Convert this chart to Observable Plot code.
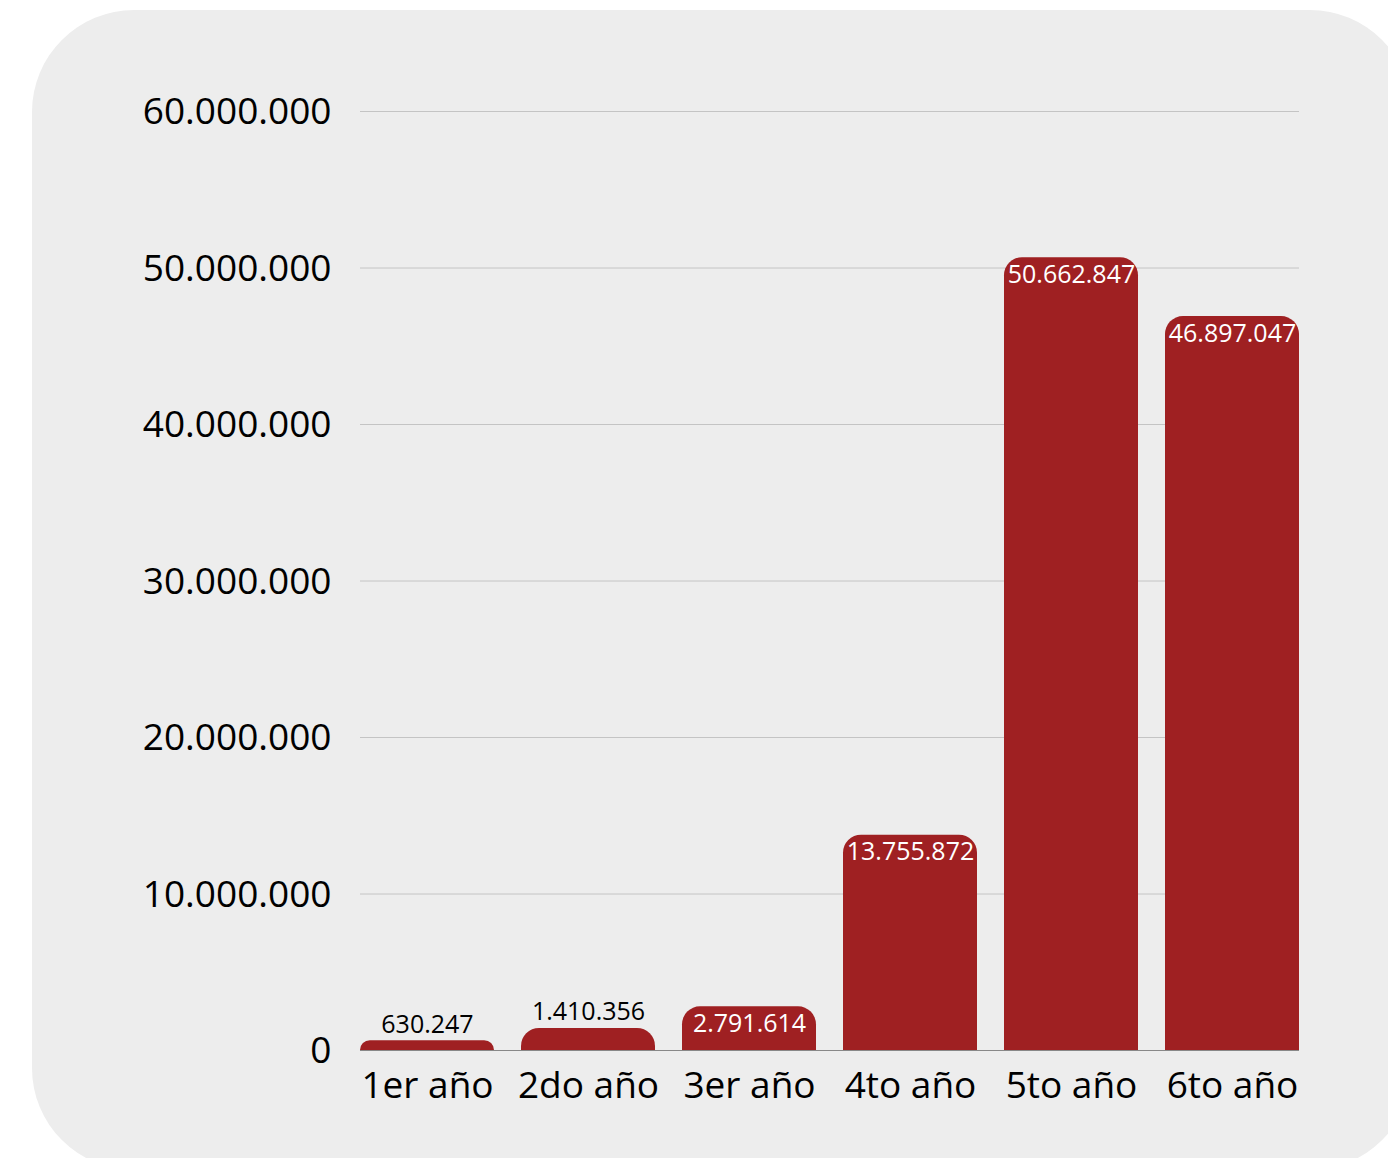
<!DOCTYPE html>
<html>
<head>
<meta charset="utf-8">
<script src="https://cdn.jsdelivr.net/npm/d3@7"></script>
<script src="https://cdn.jsdelivr.net/npm/@observablehq/plot@0.6"></script>
<style>
  html, body { margin: 0; padding: 0; background: #ffffff; width: 1388px; height: 1158px; overflow: hidden; }
  #panel { position: absolute; left: 32px; top: 10px; width: 1380px; height: 1160px; background: #ededed; border-radius: 102px; }
  #chart { position: absolute; left: 0; top: 0; }
  #chart svg { background: transparent; }
</style>
</head>
<body>
<div id="panel"></div>
<div id="chart"></div>
<script>
const categories = ["1er año", "2do año", "3er año", "4to año", "5to año", "6to año"];
const values = [630247, 1410356, 2791614, 13755872, 50662847, 46897047];
const yTicks = [0, 10000000, 20000000, 30000000, 40000000, 50000000, 60000000];

const data = categories.map((c, i) => ({cat: c, value: values[i]}));
const loc = d3.formatLocale({decimal: ",", thousands: ".", grouping: [3], currency: ["", ""]});
const fmt = loc.format(",d");
const font = "'Open Sans', 'Noto Sans', sans-serif";

const chart = Plot.plot({
  width: 1388,
  height: 1158,
  marginLeft: 360,
  marginRight: 89,
  marginTop: 111,
  marginBottom: 108,
  style: {fontFamily: font, background: "transparent", color: "#000"},
  x: {domain: categories, paddingInner: 0.168, paddingOuter: 0, label: null},
  y: {domain: [0, 60000000], label: null},
  marks: [
    Plot.ruleY(yTicks.filter(d => d > 0), {stroke: "#c4c4c4", strokeWidth: 1}),
    Plot.barY(data, {x: "cat", y: "value", fill: "#9f2022", rx1y1: 18, rx2y1: 18}),
    Plot.ruleY([0], {stroke: "#888888", strokeWidth: 1.2}),
    Plot.axisY({ticks: yTicks, tickFormat: fmt, tickSize: 0, tickPadding: 29, fontSize: 37, fill: "#000", label: null, dy: 1}),
    Plot.axisX({tickSize: 0, tickPadding: 21, fontSize: 37, fill: "#000", label: null}),
    Plot.text(data.filter(d => d.value < 2000000), {x: "cat", y: "value", text: d => fmt(d.value), dy: -16, fontSize: 25, fill: "#000", lineAnchor: "middle"}),
    Plot.text(data.filter(d => d.value >= 2000000), {x: "cat", y: "value", text: d => fmt(d.value), dy: 17, fontSize: 25, fill: "#ffffff", lineAnchor: "middle"})
  ]
});
document.getElementById("chart").appendChild(chart);
</script>
</body>
</html>
